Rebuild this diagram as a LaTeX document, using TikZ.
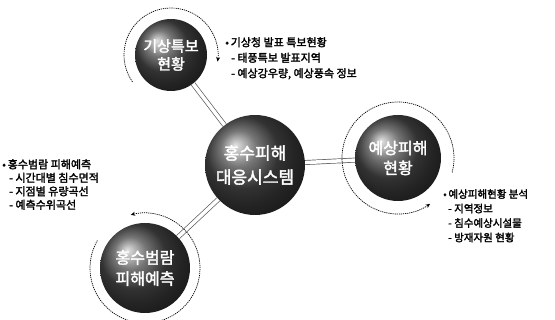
\documentclass[tikz,border=0pt]{standalone}
\usepackage{fontspec}
\setmainfont{Noto Sans CJK KR}[BoldFont={Noto Sans CJK KR}, BoldFeatures={FakeBold=2.2}]
\usetikzlibrary{arrows.meta}
\begin{document}
\begin{tikzpicture}[x=1pt,y=1pt,
  sphere/.style={circle, shading=ball, ball color=black!72, text=white,
    font=\bfseries\fontsize{15}{18}\selectfont, align=center, inner sep=0pt},
  ring/.style={line width=0.7pt, dash pattern=on 1.2pt off 0.9pt,
    -{Stealth[length=4.5pt,width=4pt]}},
  link/.style={line width=0.7pt, draw=black!65, double=white, double distance=3.5pt},
  info/.style={anchor=north west, align=left, inner sep=0pt,
    font=\bfseries\fontsize{11}{14.5}\selectfont}]
\useasboundingbox (0,0) rectangle (555,-320);

% spheres
\node[sphere, minimum size=72pt] (tl) at (171,-55) {기상특보\\현황};
\node[sphere, minimum size=100pt, font=\bfseries\fontsize{17}{24}\selectfont] (c) at (255,-165) {홍수피해\\대응시스템};
\node[sphere, minimum size=86pt, font=\bfseries\fontsize{16}{20}\selectfont] (r) at (398,-158) {예상피해\\현황};
\node[sphere, minimum size=90pt, font=\bfseries\fontsize{16}{21}\selectfont] (bl) at (145,-268) {홍수범람\\피해예측};

% connectors
\draw[link] (c) -- (tl);
\draw[link] (c) -- (r);
\draw[link] (c) -- (bl);

% rings
\draw[ring] ([shift={(215:47)}]tl.center) arc[start angle=215, end angle=-8, radius=47];
\draw[ring] ([shift={(-15:56)}]r.center) arc[start angle=-15, end angle=305, radius=56];
\draw[ring] ([shift={(150:55)}]bl.center) arc[start angle=150, end angle=465, radius=55];

% info texts
\node[info, font=\bfseries\fontsize{11}{15.5}\selectfont] (ti) at (225,-37)
  {•\,기상청 발표 특보현황\\\hspace{6pt}- 태풍특보 발표지역\\\hspace{6pt}- 예상강우량, 예상풍속 정보};
\node[info, font=\bfseries\fontsize{11}{13.5}\selectfont] (li) at (2,-159)
  {•\,홍수범람 피해예측\\\hspace{7pt}- 시간대별 침수면적\\\hspace{7pt}- 지점별 유량곡선\\\hspace{7pt}- 예측수위곡선};
\node[info, font=\bfseries\fontsize{10.5}{14.5}\selectfont] (ri) at (443,-189)
  {•\,예상피해현황 분석\\\hspace{5pt}- 지역정보\\\hspace{5pt}- 침수예상시설물\\\hspace{5pt}- 방재자원 현황};
\end{tikzpicture}
\end{document}
